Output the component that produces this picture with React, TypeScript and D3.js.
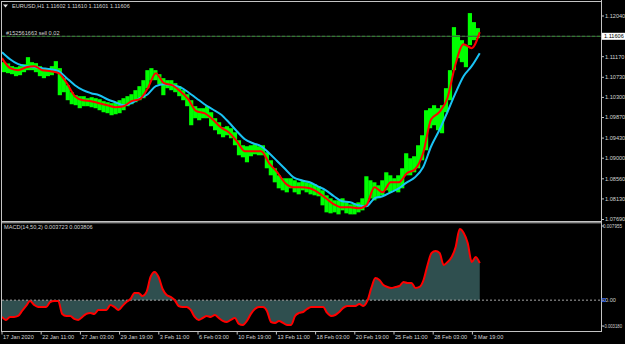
import React, { useEffect } from 'react';
import * as d3 from 'd3';

const W = 625;
const H = 344;

// ---------- DATA ----------
const symbolTitle = 'EURUSD,H1  1.11602 1.11610 1.11601 1.11606';
const orderLabel = '#152561663 sell 0.02';
const macdTitle = 'MACD(14,50,2) 0.003723 0.003806';
const lastPrice = 1.11606;

const TOTAL_BARS = 780;
const LABEL_STEP = 64;
const timeLabels = [
  '17 Jan 2020', '22 Jan 11:00', '27 Jan 03:00', '29 Jan 19:00', '3 Feb 11:00',
  '6 Feb 03:00', '10 Feb 19:00', '13 Feb 11:00', '18 Feb 03:00', '20 Feb 19:00',
  '25 Feb 11:00', '28 Feb 03:00', '3 Mar 19:00',
];

const priceTicks = [1.0769, 1.0813, 1.0856, 1.09, 1.0943, 1.0987, 1.103, 1.1073, 1.1117, 1.1204];
const priceMin = 1.0769;
const priceMax = 1.1204;

const MACD_MIN = -0.00318;
const MACD_MAX = 0.007955;
const macdTicks = [MACD_MAX, 0, MACD_MIN];
const macdTickLabels = ['0.007955', '0.00', '-0.003180'];

// grouped bar highs / lows
const barHigh = [
  1.11053, 1.11026, 1.10968, 1.10946, 1.10968, 1.1101, 1.1116, 1.11053, 1.11032, 1.10968,
  1.10925, 1.10925, 1.10968, 1.11075, 1.10925, 1.10711, 1.10561, 1.10411, 1.10347, 1.10326,
  1.10326, 1.10283, 1.10304, 1.10283, 1.10261, 1.10219, 1.10197, 1.10176, 1.10197, 1.1024,
  1.10283, 1.10326, 1.10368, 1.10454, 1.1054, 1.10668, 1.10882, 1.10925, 1.10882, 1.10796,
  1.10711, 1.10668, 1.10668, 1.10604, 1.1054, 1.10454, 1.10368, 1.1024, 1.10112, 1.10069,
  1.10069, 1.10112, 1.09983, 1.09855, 1.09769, 1.09662, 1.09684, 1.09641, 1.09555, 1.09384,
  1.09277, 1.09256, 1.09277, 1.09298, 1.09256, 1.09277, 1.09127, 1.08956, 1.08785, 1.08635,
  1.08571, 1.08571, 1.08571, 1.08528, 1.08485, 1.08528, 1.08485, 1.08464, 1.08442, 1.084,
  1.08314, 1.08207, 1.08143, 1.081, 1.081, 1.08143, 1.08057, 1.08014, 1.08036, 1.08057,
  1.08143, 1.08614, 1.08528, 1.08485, 1.08421, 1.08528, 1.08699, 1.08635, 1.08571, 1.08635,
  1.08785, 1.09106, 1.08999, 1.09042, 1.09277, 1.09491, 1.10026, 1.10069, 1.10133, 1.10069,
  1.10133, 1.10497, 1.10882, 1.11802, 1.11631, 1.11524, 1.11417, 1.12102, 1.11909, 1.11781,
];
const barLow = [
  1.10839, 1.10818, 1.10796, 1.10754, 1.10775, 1.10839, 1.10882, 1.10882, 1.10839, 1.10754,
  1.10711, 1.10754, 1.10775, 1.10839, 1.10347, 1.10411, 1.1024, 1.10154, 1.10133, 1.10069,
  1.10112, 1.10112, 1.1009, 1.10069, 1.10026, 1.09983, 1.09962, 1.09919, 1.0994, 1.09962,
  1.10026, 1.10112, 1.10154, 1.10197, 1.1024, 1.10283, 1.10497, 1.10668, 1.10668, 1.10582,
  1.10347, 1.10497, 1.10454, 1.10411, 1.10326, 1.1024, 1.10112, 1.09705, 1.09855, 1.09812,
  1.09855, 1.09855, 1.09684, 1.09598, 1.09512, 1.09448, 1.09491, 1.09427, 1.09277, 1.09063,
  1.0902, 1.08913, 1.09042, 1.09084, 1.09063, 1.09063, 1.08785, 1.08635, 1.08485, 1.08357,
  1.08314, 1.08271, 1.08357, 1.08271, 1.08228, 1.08314, 1.08271, 1.08228, 1.08207, 1.08186,
  1.07993, 1.07843, 1.07822, 1.07843, 1.078, 1.07886, 1.07822, 1.078, 1.078, 1.07843,
  1.07886, 1.07972, 1.08143, 1.081, 1.08143, 1.08207, 1.08314, 1.08271, 1.08314, 1.08271,
  1.08357, 1.08635, 1.08635, 1.08699, 1.08785, 1.08956, 1.0917, 1.09641, 1.09705, 1.09598,
  1.09534, 1.09983, 1.1024, 1.10882, 1.11139, 1.11053, 1.10946, 1.11417, 1.11524, 1.11567,
];

// fast moving average (red)
const fastMA = [
  1.11139, 1.10925, 1.10882, 1.10946, 1.10968, 1.10882, 1.10861, 1.10818, 1.10604, 1.10326,
  1.1024, 1.10219, 1.10176, 1.10133, 1.1009, 1.10112, 1.10219, 1.10261, 1.10497, 1.10818,
  1.10604, 1.10561, 1.10433, 1.10261, 1.10005, 1.09962, 1.09833, 1.09662, 1.09555, 1.09363,
  1.09149, 1.09149, 1.09149, 1.08892, 1.08699, 1.08464, 1.08378, 1.08378, 1.08357, 1.08271,
  1.08143, 1.08014, 1.0795, 1.0795, 1.07929, 1.07993, 1.08378, 1.08271, 1.08485, 1.08485,
  1.08678, 1.08763, 1.09106, 1.09833, 1.09983, 1.10283, 1.1101, 1.11438, 1.11353, 1.11695,
];
// slow moving average (blue)
const slowMA = [
  1.11267, 1.11117, 1.1101, 1.10968, 1.10946, 1.10925, 1.10903, 1.10861, 1.10711, 1.10561,
  1.10454, 1.1039, 1.10347, 1.10261, 1.10197, 1.10133, 1.10176, 1.10283, 1.10368, 1.1054,
  1.10582, 1.10561, 1.10518, 1.10411, 1.10283, 1.10154, 1.10047, 1.0994, 1.09769, 1.09577,
  1.09405, 1.0932, 1.09256, 1.09106, 1.08935, 1.08763, 1.08592, 1.08528, 1.08485, 1.084,
  1.08314, 1.08186, 1.08079, 1.08057, 1.07993, 1.07972, 1.08143, 1.08186, 1.08271, 1.08357,
  1.08485, 1.08592, 1.08806, 1.09256, 1.09598, 1.09983, 1.1039, 1.10754, 1.10968, 1.11246,
];

// MACD signal (red line on histogram)
const macdSignal = [
  -0.00173, -0.00204, -0.00173, -0.00173, -0.00163, -0.00111, -0.0006, -0.00008, -0.00049, -0.0007,
  -0.0007, -0.0007, -0.00019, -0.00008, -0.00008, -0.00142, -0.00163, -0.00163, -0.00194, -0.00204,
  -0.00173, -0.00142, -0.00132, -0.00142, -0.00101, -0.00101, -0.00101, -0.00049, -0.0007, -0.00101,
  -0.0006, -0.00019, 0.00012, 0.00074, 0.00074, 0.00043, 0.00085, 0.00239, 0.00291, 0.00239,
  0.00115, 0.00054, 0.00033, 0.00002, -0.0006, -0.0007, -0.0007, -0.00101, -0.00173, -0.00204,
  -0.00184, -0.00163, -0.00173, -0.00153, -0.00184, -0.00214, -0.00225, -0.00204, -0.00184, -0.00245,
  -0.00256, -0.00214, -0.00142, -0.00091, -0.0007, -0.0007, -0.00111, -0.00225, -0.00235, -0.00214,
  -0.00235, -0.00256, -0.00256, -0.00163, -0.00132, -0.00122, -0.00091, -0.0007, -0.0007, -0.0007,
  -0.0007, -0.00132, -0.00163, -0.00153, -0.00122, -0.0008, -0.0006, -0.0006, -0.0006, -0.00039,
  -0.0006, -0.00008, 0.00126, 0.00229, 0.00208, 0.00157, 0.00136, 0.00126, 0.00136, 0.00146,
  0.00188, 0.00177, 0.00177, 0.00126, 0.00136, 0.00208, 0.00363, 0.00487, 0.00507, 0.00487,
  0.00363, 0.00394, 0.00445, 0.00549, 0.00734, 0.00693, 0.0059, 0.00394, 0.00445, 0.00381,
];

// ---------- CHART ----------
const FONT = '"Liberation Sans", Arial, sans-serif';
const FS = 5.6;
const TXT = '#d4d4d4';
const BORDER = '#c4c4c4';

export default function App() {
  useEffect(() => {
    document.body.style.margin = '0';
    document.body.style.background = '#000';
  }, []);

  const x = d3.scaleLinear().domain([0, TOTAL_BARS]).range([2, 479.75]);
  const yP = d3.scaleLinear().domain([priceMin, priceMax]).range([219.5, 16]);
  const yM = d3.scaleLinear().domain([MACD_MIN, MACD_MAX]).range([331, 223]);

  const colBars = TOTAL_BARS / barHigh.length;
  const maStep = TOTAL_BARS / (fastMA.length - 1);
  const macdStep = TOTAL_BARS / (macdSignal.length - 1);

  const maLine = d3
    .line<number>()
    .x((_, i) => x(i * maStep))
    .y((d) => yP(d))
    .curve(d3.curveMonotoneX);

  const macdArea = d3
    .area<number>()
    .x((_, i) => x(i * macdStep))
    .y0(yM(0))
    .y1((d) => yM(d))
    .curve(d3.curveMonotoneX);
  const macdLine = d3
    .line<number>()
    .x((_, i) => x(i * macdStep))
    .y((d) => yM(d))
    .curve(d3.curveMonotoneX);

  const colW = x(colBars) - x(0);
  const axisX = 601;

  return (
    <svg
      width={W}
      height={H}
      viewBox={`0 0 ${W} ${H}`}
      style={{ position: 'absolute', left: 0, top: 0, background: '#000', display: 'block' }}
      fontFamily={FONT}
    >
      <rect x={0} y={0} width={W} height={H} fill="#000" />

      {/* price bars */}
      <g fill="#00ff00">
        {barHigh.map((hi, i) => (
          <rect
            key={i}
            x={x(i * colBars)}
            y={yP(hi)}
            width={colW + 0.2}
            height={Math.max(1, yP(barLow[i]) - yP(hi))}
          />
        ))}
      </g>

      {/* order / bid line */}
      <line x1={2} x2={axisX} y1={yP(lastPrice)} y2={yP(lastPrice)} stroke="#4a4a4a" strokeWidth={1} />
      <line
        x1={2}
        x2={axisX}
        y1={yP(lastPrice)}
        y2={yP(lastPrice)}
        stroke="#2f8a2f"
        strokeWidth={1}
        strokeDasharray="3,2"
      />
      <text x={6} y={33} fontSize={FS} fill={TXT} dy="0.35em">
        {orderLabel}
      </text>

      {/* moving averages */}
      <path d={maLine(slowMA) || ''} fill="none" stroke="#19c3f5" strokeWidth={2} />
      <path d={maLine(fastMA) || ''} fill="none" stroke="#ff0000" strokeWidth={2} />

      {/* title */}
      <path d="M3,4.5 L8,4.5 L5.5,7.5 Z" fill="#e0e0e0" />
      <text x={12} y={6} fontSize={FS} fill={TXT} dy="0.35em">
        {symbolTitle}
      </text>

      {/* MACD */}
      <path d={macdArea(macdSignal) || ''} fill="#2f4f4f" />
      <line
        x1={2}
        x2={axisX}
        y1={yM(0)}
        y2={yM(0)}
        stroke="#a8a8a8"
        strokeWidth={1}
        strokeDasharray="2,2"
      />
      <path d={macdLine(macdSignal) || ''} fill="none" stroke="#ff0000" strokeWidth={2} />
      <text x={4} y={227} fontSize={FS} fill={TXT} dy="0.35em">
        {macdTitle}
      </text>

      {/* borders */}
      <line x1={2} x2={axisX} y1={1.5} y2={1.5} stroke={BORDER} strokeWidth={1} />
      <line x1={1.5} x2={1.5} y1={1} y2={331} stroke={BORDER} strokeWidth={1} />
      <line x1={2} x2={axisX} y1={221.5} y2={221.5} stroke={BORDER} strokeWidth={1} />
      <line x1={2} x2={axisX} y1={222.8} y2={222.8} stroke={BORDER} strokeWidth={1} />
      <line x1={1} x2={axisX} y1={331.5} y2={331.5} stroke={BORDER} strokeWidth={1} />
      <line x1={axisX + 0.5} x2={axisX + 0.5} y1={0} y2={332} stroke={BORDER} strokeWidth={1} />

      {/* price axis */}
      {priceTicks.map((t) => (
        <g key={t}>
          <line x1={axisX} x2={axisX + 3} y1={yP(t)} y2={yP(t)} stroke={BORDER} strokeWidth={1} />
          <text x={605} y={yP(t)} fontSize={FS} fill={TXT} dy="0.35em">
            {t.toFixed(5)}
          </text>
        </g>
      ))}
      <rect x={602} y={yP(lastPrice) - 3.5} width={23} height={7} fill="#ffffff" />
      <text x={604} y={yP(lastPrice)} fontSize={FS} fill="#000" dy="0.35em">
        {lastPrice.toFixed(5)}
      </text>

      {/* MACD axis */}
      {macdTicks.map((t, i) => {
        const yy = i === 0 ? yM(t) + 3 : i === 2 ? yM(t) - 5 : yM(t);
        const wide = i !== 1;
        return (
          <g key={i}>
            <line x1={axisX} x2={axisX + 3} y1={yy} y2={yy} stroke={BORDER} strokeWidth={1} />
            <text
              x={wide ? 603 : 605}
              y={yy}
              fontSize={wide ? 5 : FS}
              fill={TXT}
              dy="0.35em"
              textLength={wide ? 19 : undefined}
              lengthAdjust={wide ? 'spacingAndGlyphs' : undefined}
            >
              {macdTickLabels[i]}
            </text>
          </g>
        );
      })}
      <rect x={602} y={yM(0) - 1.5} width={3} height={3} fill="none" stroke="#3b6cff" strokeWidth={0.8} />

      {/* time axis */}
      {timeLabels.map((lab, j) => {
        const xx = x(j * LABEL_STEP);
        return (
          <g key={lab}>
            <line x1={xx} x2={xx} y1={331} y2={334.5} stroke={BORDER} strokeWidth={1} />
            <text x={xx + 1} y={337.5} fontSize={FS} fill={TXT} dy="0.35em">
              {lab}
            </text>
          </g>
        );
      })}
    </svg>
  );
}
